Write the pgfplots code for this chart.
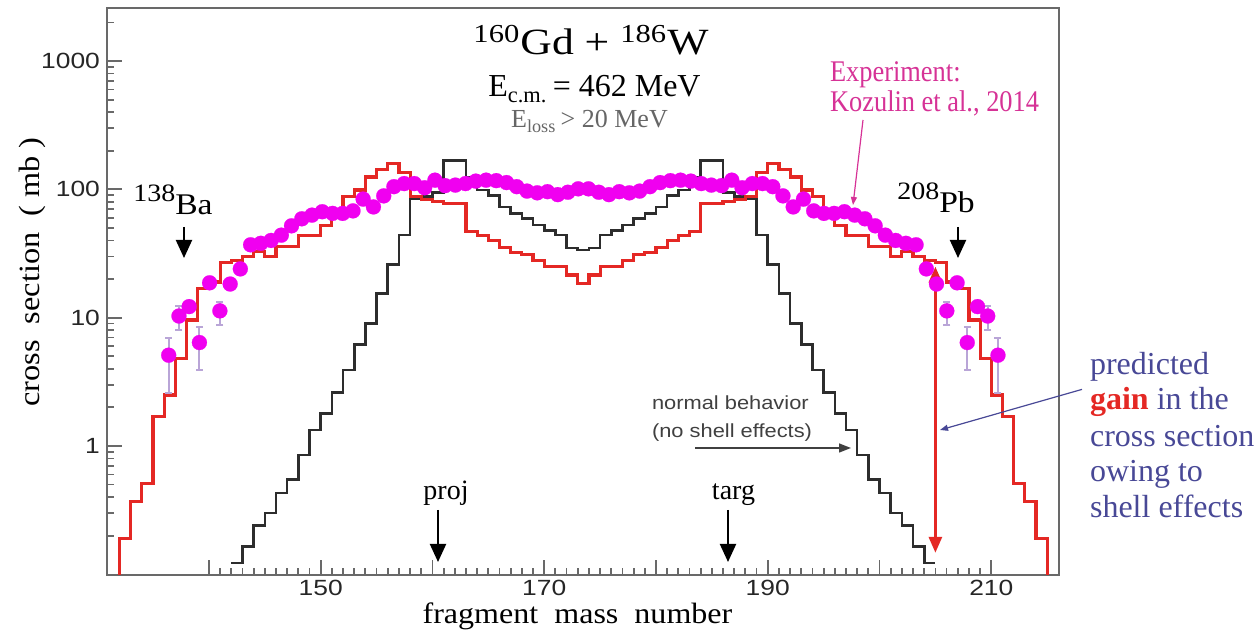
\documentclass[border=0pt]{standalone}
\usepackage{fontspec}
\setmainfont{Liberation Serif}
\newfontfamily\sansf{Liberation Sans}
\usepackage{pgfplots}
\usepackage{pgfplotstable}
\pgfplotsset{compat=1.18}
\usetikzlibrary{arrows.meta}

\definecolor{histred}{RGB}{228,40,36}
\definecolor{histblk}{RGB}{45,45,45}
\definecolor{expmag}{RGB}{240,0,240}
\definecolor{errpur}{RGB}{185,165,215}
\definecolor{framegray}{RGB}{105,105,105}
\definecolor{pinktxt}{RGB}{214,50,150}
\definecolor{navytxt}{RGB}{72,72,150}
\newcommand{\hs}[2]{\scalebox{#1}[1]{#2}}

% theory with shell effects (bin left edge, value)
\pgfplotstableread{
x y
132 0.05
132 0.19
133 0.37
134 0.51
135 1.7
136 2.5
137 4.8
138 9.6
139 17
140 19
141 27
142 28
143 30
144 33
145 30
146 36
147 36
148 44
149 44
150 52
151 68
152 88
153 99
154 125
155 142
156 160
157 135
158 88
159 84
160 80
161 78
162 78
163 47
164 44
165 40
166 35
167 32
168 31
169 28
170 25
171 25
172 21.5
173 18.6
174 21.5
175 25
176 25
177 28
178 31
179 32
180 35
181 40
182 44
183 47
184 78
185 78
186 80
187 84
188 88
189 135
190 160
191 142
192 125
193 99
194 88
195 68
196 52
197 44
198 44
199 36
200 36
201 30
202 33
203 30
204 28
205 27
206 19
207 17
208 9.6
209 4.8
210 2.5
211 1.7
212 0.51
213 0.37
214 0.19
215 0.19
215 0.05
}\redtab

% normal behavior (no shell effects)
\pgfplotstableread{
x y
142 0.122
143 0.164
144 0.24
145 0.30
146 0.43
147 0.55
148 0.85
149 1.33
150 1.8
151 2.6
152 3.9
153 6.2
154 9.0
155 15.5
156 26
157 44
158 84
159 88
160 95
161 168
162 168
163 125
164 99
165 90
166 73
167 65
168 59.6
169 52.6
170 48
171 44
172 35
173 33.7
174 35
175 44
176 48
177 52.6
178 59.6
179 65
180 73
181 90
182 99
183 125
184 168
185 168
186 95
187 88
188 84
189 44
190 26
191 15.5
192 9.0
193 6.2
194 3.9
195 2.6
196 1.8
197 1.33
198 0.85
199 0.55
200 0.43
201 0.30
202 0.24
203 0.164
204 0.122
205 0.122
}\blktab

% experiment
\pgfplotstableread{
x y ep em
136.40 5.1 1.8 2.5
137.32 10.3 2.0 2.3
138.23 12.2 1.2 1.2
139.15 6.4 2.0 2.5
140.06 18.7 1.5 1.5
140.98 11.3 2.0 2.5
141.90 18.3 1.2 1.2
142.81 24 1.5 1.5
143.73 37 2 2
144.64 38 2 2
145.56 40 2 2
146.48 44 2 2
147.39 52 2 2
148.31 59 2 2
149.22 63 2 2
150.14 67 3 3
151.06 65 3 3
151.97 65 3 3
152.89 68 3 3
153.80 84 3 3
154.72 73 3 3
155.64 89 3 3
156.55 105 4 4
157.47 111 4 4
158.38 111 4 4
159.30 103 4 4
160.22 118 4 4
161.13 107 4 4
162.05 108 4 4
162.96 111 4 4
163.88 116 4 4
164.80 118 4 4
165.71 117 4 4
166.63 113 4 4
167.54 105 4 4
168.46 97 4 4
169.38 94 4 4
170.29 96 4 4
171.21 91 4 4
172.12 95 4 4
173.04 101 4 4
173.96 101 4 4
174.88 95 4 4
175.79 91 4 4
176.71 96 4 4
177.62 94 4 4
178.54 97 4 4
179.46 105 4 4
180.37 113 4 4
181.29 117 4 4
182.20 118 4 4
183.12 116 4 4
184.04 111 4 4
184.95 108 4 4
185.87 107 4 4
186.78 118 4 4
187.70 103 4 4
188.62 111 4 4
189.53 111 4 4
190.45 105 4 4
191.36 89 3 3
192.28 73 3 3
193.20 84 3 3
194.11 68 3 3
195.03 65 3 3
195.94 65 3 3
196.86 67 3 3
197.78 63 2 2
198.69 59 2 2
199.61 52 2 2
200.52 44 2 2
201.44 40 2 2
202.36 38 2 2
203.27 37 2 2
204.19 24 1.5 1.5
205.10 18.3 1.2 1.2
206.02 11.3 2.0 2.5
206.94 18.7 1.5 1.5
207.85 6.4 2.0 2.5
208.77 12.2 1.2 1.2
209.68 10.3 2.0 2.3
210.60 5.1 1.8 2.5
}\exptab

\begin{document}
\begin{tikzpicture}
\begin{axis}[
  scale only axis, width=476pt, height=283.5pt,
  ymode=log, xmin=130.88, xmax=216.06, ymin=0.0987, ymax=2594,
  axis line style={draw=framegray, line width=1.2pt},
  xtick={140,150,...,210},
  xticklabels={,\hs{1.2}{150},,\hs{1.2}{170},,\hs{1.2}{190},,\hs{1.2}{210}},
  minor x tick num=9,
  ytick={1,10,100,1000},
  yticklabels={\hs{1.2}{1},\hs{1.2}{10},\hs{1.2}{100},\hs{1.2}{1000}},
  minor ytick={0.2,0.3,0.4,0.5,0.6,0.7,0.8,0.9,2,3,4,5,6,7,8,9,20,30,40,50,60,70,80,90,200,300,400,500,600,700,800,900,2000},
  tick align=inside, xtick pos=bottom, ytick pos=left,
  major tick length=7.5pt, minor tick length=3.5pt,
  every tick/.style={draw=framegray, line width=0.9pt},
  ticklabel style={font=\sansf\fontsize{11}{13}\selectfont, text=black!85},
  xticklabel style={yshift=1pt},
]
\addplot[const plot, draw=histblk, line width=1.3pt] table[x=x,y=y]{\blktab};
\addplot[const plot, draw=histred, line width=1.6pt] table[x=x,y=y]{\redtab};
\addplot[color=expmag, only marks, mark=*, mark size=3.75pt, mark options={draw=expmag, fill=expmag, line width=0.1pt},
  error bars/.cd, y dir=both, y explicit,
  error bar style={draw=errpur, line width=1pt},
  error mark options={rotate=90, draw=errpur, mark size=1.75pt, line width=1pt}]
  table[x=x, y=y, y error plus=ep, y error minus=em]{\exptab};
\draw[histred, line width=1.5pt, {Triangle[width=6.5pt,length=8pt]}-{Triangle[width=6.5pt,length=8pt]}]
  (axis cs:205,25) -- (axis cs:205,0.147);
\end{axis}

% axis labels
\node[rotate=90, font=\fontsize{14.7}{17}\selectfont] at (-37.5pt,151.5pt) {\hs{1.1}{cross\ \ section\ \ ( mb )}};
\node[anchor=base, font=\fontsize{14.7}{17}\selectfont] at (235.25pt,-24.5pt) {\hs{1.09}{fragment\ \ mass\ \ number}};

% title block
\node[anchor=base, font=\fontsize{18.5}{21}\selectfont] at (242pt,260pt) {\hs{1.18}{\textsuperscript{160}Gd + \textsuperscript{186}W}};
\node[anchor=base, font=\fontsize{16}{19}\selectfont] at (243.75pt,239pt) {E\textsubscript{c.m.}\,= 462 MeV};
\node[anchor=base, font=\fontsize{13}{15}\selectfont, text=black!60] at (241.25pt,223.5pt) {E\textsubscript{loss}\,> 20 MeV};

% nuclei markers
\node[anchor=base, font=\fontsize{15}{18}\selectfont] at (33pt,180pt) {\hs{1.12}{\raisebox{6.5pt}{\fontsize{12.5}{14}\selectfont 138}Ba}};
\node[anchor=base, font=\fontsize{15}{18}\selectfont] at (414.5pt,181pt) {\hs{1.12}{\raisebox{6.5pt}{\fontsize{12.5}{14}\selectfont 208}Pb}};
\draw[line width=1pt, -{Triangle[width=8pt,length=9pt]}] (38.5pt,174pt) -- (38.5pt,158.5pt);
\draw[line width=1pt, -{Triangle[width=8pt,length=9pt]}] (425.5pt,174pt) -- (425.5pt,158.5pt);

\node[anchor=base, font=\fontsize{14}{17}\selectfont] at (169.5pt,37.5pt) {proj};
\node[anchor=base, font=\fontsize{14}{17}\selectfont] at (313.25pt,37.5pt) {targ};
\draw[line width=1pt, -{Triangle[width=8pt,length=9pt]}] (165.5pt,32.5pt) -- (165.5pt,6.5pt);
\draw[line width=1pt, -{Triangle[width=8pt,length=9pt]}] (310.5pt,32.5pt) -- (310.5pt,6.5pt);

% normal behavior
\node[anchor=base west, font=\sansf\fontsize{9.5}{11}\selectfont, text=black!75] at (269pt,82.5pt) {\hs{1.15}{normal behavior}};
\node[anchor=base west, font=\sansf\fontsize{9.5}{11}\selectfont, text=black!75] at (269pt,68.5pt) {\hs{1.15}{(no shell effects)}};
\draw[black!75, line width=0.7pt, -{Triangle[width=4.5pt,length=6pt]}] (294pt,63.5pt) -- (372pt,63.5pt);

% experiment
\node[anchor=base west, font=\fontsize{15}{18}\selectfont, text=pinktxt] at (358pt,246.5pt) {\hs{0.88}{Experiment:}};
\node[anchor=base west, font=\fontsize{15}{18}\selectfont, text=pinktxt] at (358pt,231.5pt) {\hs{0.88}{Kozulin et al., 2014}};
\draw[pinktxt, line width=0.6pt, -{Triangle[width=3pt,length=4pt]}] (378pt,227.5pt) -- (373pt,185pt);

% predicted gain
\node[anchor=base west, font=\fontsize{16}{19}\selectfont, text=navytxt] at (488pt,100pt) {predicted};
\node[anchor=base west, font=\fontsize{16}{19}\selectfont, text=navytxt] at (488pt,82.5pt) {{\color{histred}\bfseries gain} in the};
\node[anchor=base west, font=\fontsize{16}{19}\selectfont, text=navytxt] at (488pt,64pt) {cross section};
\node[anchor=base west, font=\fontsize{16}{19}\selectfont, text=navytxt] at (488pt,46.5pt) {owing to};
\node[anchor=base west, font=\fontsize{16}{19}\selectfont, text=navytxt] at (488pt,28.5pt) {shell effects};
\draw[navytxt, line width=0.6pt, -{Triangle[width=3pt,length=4pt]}] (487.5pt,92.8pt) -- (416.5pt,72.5pt);

\pgfresetboundingbox
\path[use as bounding box] (-53.5pt,-28pt) rectangle (574pt,287.5pt);
\end{tikzpicture}
\end{document}
